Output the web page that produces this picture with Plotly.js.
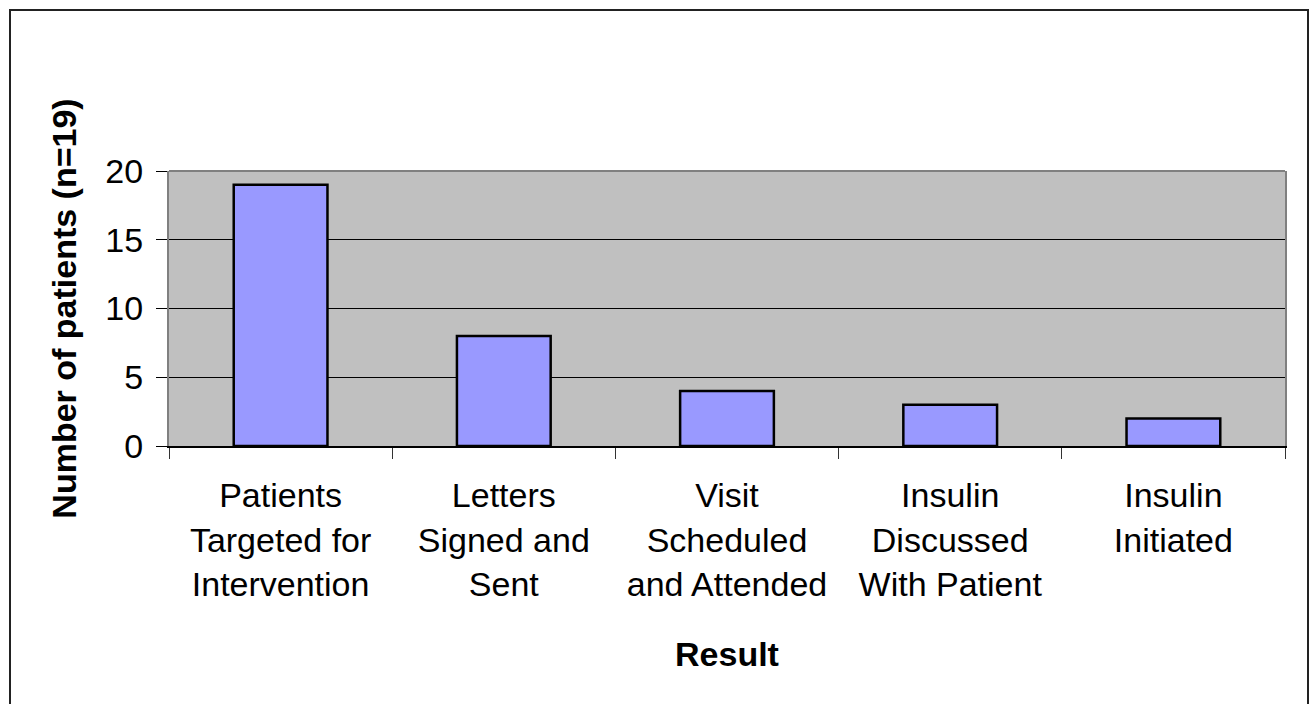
<!DOCTYPE html>
<html>
<head>
<meta charset="utf-8">
<script src="https://cdn.plot.ly/plotly-3.0.1.min.js"></script>
<style>
  html, body { margin: 0; padding: 0; background: #fff; overflow: hidden; }
  #wrap { position: relative; width: 1309px; height: 704px; overflow: hidden; }
  #chart { width: 1309px; height: 704px; }
  #frame { position: absolute; left: 9px; top: 9px; width: 1296px; height: 740px;
           border: 2px solid #222; pointer-events: none; }
</style>
</head>
<body>
<div id="wrap">
  <div id="chart"></div>
  <div id="frame"></div>
</div>
<script>
const categories = [
  "Patients<br>Targeted for<br>Intervention",
  "Letters<br>Signed and<br>Sent",
  "Visit<br>Scheduled<br>and Attended",
  "Insulin<br>Discussed<br>With Patient",
  "Insulin<br>Initiated"
];
const patients = [19, 8, 4, 3, 2];
const yTickValues = [0, 5, 10, 15, 20];
const xTitle = "Result";
const yTitle = "Number of patients (n=19)";

const FONT = '"Liberation Sans", Arial, sans-serif';
const FS = 34;

const trace = {
  type: 'bar',
  x: categories,
  y: patients,
  marker: { color: '#9999FF', line: { color: '#000000', width: 2.5 } },
  hoverinfo: 'skip'
};

const layout = {
  width: 1309,
  height: 704,
  margin: { l: 169, r: 24, t: 171, b: 258 },
  paper_bgcolor: '#ffffff',
  plot_bgcolor: '#C0C0C0',
  bargap: 0.58,
  showlegend: false,
  font: { family: FONT, size: FS, color: '#000' },
  xaxis: {
    type: 'category',
    tickson: 'boundaries',
    ticks: 'outside',
    ticklen: 11,
    tickwidth: 1,
    tickcolor: '#333',
    showline: true,
    linecolor: '#000',
    linewidth: 1.5,
    showgrid: false,
    ticklabelstandoff: 19,
    tickfont: { family: FONT, size: FS, color: '#000' },
    title: { text: xTitle, font: { family: FONT, size: FS, color: '#000', weight: 'bold' }, standoff: 40 }
  },
  yaxis: {
    range: [0, 20],
    tickvals: yTickValues,
    ticks: 'outside',
    ticklen: 11,
    tickwidth: 1,
    tickcolor: '#000',
    showline: true,
    mirror: true,
    linecolor: '#808080',
    linewidth: 2,
    showgrid: true,
    gridcolor: '#000',
    gridwidth: 1,
    zeroline: false,
    ticklabelstandoff: 6,
    tickfont: { family: FONT, size: FS, color: '#000' },
    title: { text: yTitle, font: { family: FONT, size: FS, color: '#000', weight: 'bold' }, standoff: 18 }
  },
  shapes: [
    { type: 'line', xref: 'paper', yref: 'paper', x0: 0, x1: 1, y0: 1, y1: 1,
      line: { color: '#808080', width: 2 }, layer: 'above' }
  ]
};

Plotly.newPlot('chart', [trace], layout, { displayModeBar: false, staticPlot: true });
</script>
</body>
</html>
